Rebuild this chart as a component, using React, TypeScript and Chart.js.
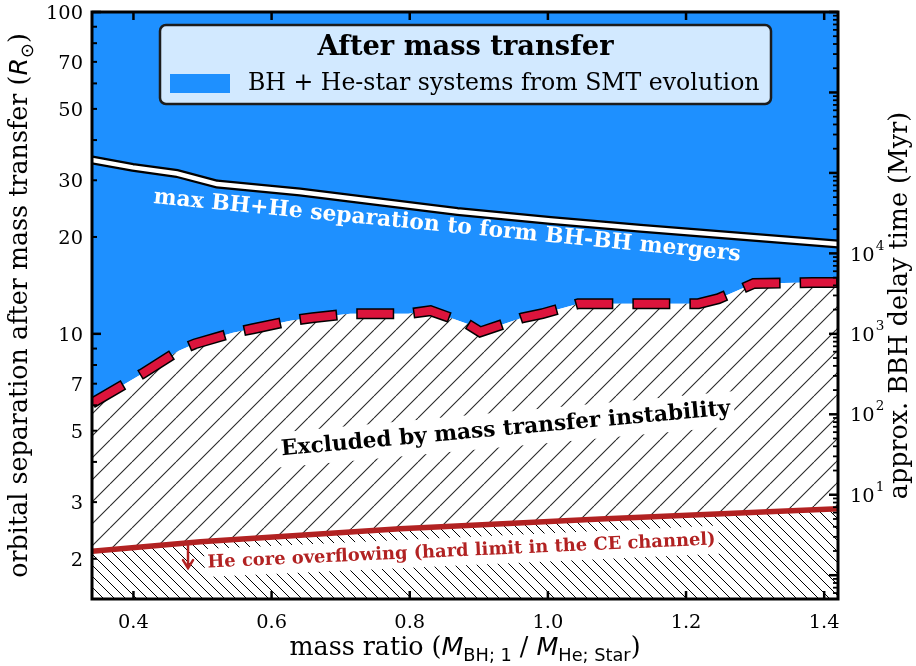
import React, { useEffect, useRef } from "react";
import { Chart, registerables } from "chart.js";
Chart.register(...registerables);

// ---------------- data ----------------
const X_MIN = 0.34;
const X_MAX = 1.42;
const Y_MIN = 1.5;
const Y_MAX = 100;

// stability boundary (dashed red line / edge of blue region)
const boundaryMassRatio = [0.34, 0.412, 0.465, 0.489, 0.544, 0.573, 0.627, 0.659, 0.714, 0.798, 0.83, 0.883, 0.902, 0.963, 0.992, 1.044, 1.076, 1.218, 1.247, 1.298, 1.383, 1.42];
const boundarySeparation = [6.09, 7.5, 8.85, 9.31, 10.07, 10.37, 10.98, 11.22, 11.55, 11.55, 11.8, 10.75, 10.14, 11.22, 11.55, 12.41, 12.41, 12.41, 12.86, 14.33, 14.43, 14.43];

// max BH+He separation to form BH-BH mergers (white line)
const maxSepMassRatio = [0.34, 0.399, 0.463, 0.521, 0.641, 0.869, 1.004, 1.134, 1.42];
const maxSepSeparation = [34.7, 32.9, 31.5, 29.2, 27.6, 24.0, 22.5, 21.3, 19.0];

// He core overflowing limit (firebrick line)
const heCoreMassRatio = [0.34, 0.497, 0.786, 1.076, 1.42];
const heCoreSeparation = [2.11, 2.26, 2.48, 2.66, 2.86];

// ticks
const xTicks = [0.4, 0.6, 0.8, 1.0, 1.2, 1.4];
const xTickLabels = ["0.4", "0.6", "0.8", "1.0", "1.2", "1.4"];
const yLabelTicks = [2, 3, 5, 7, 10, 20, 30, 50, 70, 100];
const yMajorTicks = [10, 100];
const yMinorTicks = [2, 3, 4, 5, 6, 7, 8, 9, 20, 30, 40, 50, 60, 70, 80, 90];
const delayLabelExponents = [1, 2, 3, 4];
const DELAY_AT_10_RSUN = 1000; // Myr at 10 Rsun
const DELAY_POWER = 4;

// annotation anchors (data coordinates); angle in degrees, positive = rising to the right
const maxSepText = { q: 0.854, a: 21.6, angle: -5.6 };
const excludedText = { q: 0.939, a: 5.05, angle: 5.2 };
const heCoreText = { q: 0.875, a: 2.11, angle: 2.6 };
const heArrow = { q: 0.479, aFrom: 2.25, aTo: 1.87 };

// ---------------- styles ----------------
const BLUE = "#1E90FF";
const CRIMSON = "#DC143C";
const FIREBRICK = "#B22222";
const SERIF = '"DejaVu Serif"';
const SANS = '"DejaVu Sans"';

type Seg = { t: string; f: (s: number) => string; dy?: number };
const serif = (s: number) => `${s}px ${SERIF}`;
const serifBold = (s: number) => `bold ${s}px ${SERIF}`;
const sansItal = (s: number) => `italic ${s}px ${SANS}`;
const sansSub = (s: number) => `${0.7 * s}px ${SANS}`;

function richWidth(ctx: CanvasRenderingContext2D, segs: Seg[], s: number) {
  let w = 0;
  for (const g of segs) {
    ctx.font = g.f(s);
    w += ctx.measureText(g.t).width;
  }
  return w;
}
function drawRich(ctx: CanvasRenderingContext2D, segs: Seg[], s: number, cx: number, y: number) {
  const w = richWidth(ctx, segs, s);
  let x = cx - w / 2;
  ctx.textAlign = "left";
  ctx.textBaseline = "alphabetic";
  for (const g of segs) {
    ctx.font = g.f(s);
    ctx.fillText(g.t, x, y + (g.dy || 0) * s);
    x += ctx.measureText(g.t).width;
  }
}
function fitSize(ctx: CanvasRenderingContext2D, segs: Seg[], target: number) {
  return (100 * target) / richWidth(ctx, segs, 100);
}

function makeHatch(ctx: CanvasRenderingContext2D, p: number, forward: boolean, color: string, lw: number) {
  const c = document.createElement("canvas");
  c.width = p;
  c.height = p;
  const g = c.getContext("2d")!;
  g.fillStyle = "#fff";
  g.fillRect(0, 0, p, p);
  g.strokeStyle = color;
  g.lineWidth = lw;
  g.beginPath();
  for (const o of [-p, 0, p]) {
    if (forward) {
      g.moveTo(o, p);
      g.lineTo(o + p, 0);
    } else {
      g.moveTo(o, 0);
      g.lineTo(o + p, p);
    }
  }
  g.stroke();
  return ctx.createPattern(c, "repeat")!;
}

const xTitle: Seg[] = [
  { t: "mass ratio (", f: serif },
  { t: "M", f: sansItal },
  { t: "BH; 1", f: sansSub, dy: 0.25 },
  { t: " / ", f: serif },
  { t: "M", f: sansItal },
  { t: "He; Star", f: sansSub, dy: 0.25 },
  { t: ")", f: serif },
];
const yTitle: Seg[] = [
  { t: "orbital separation after mass transfer (", f: serif },
  { t: "R", f: sansItal },
  { t: "\u2299", f: sansSub, dy: 0.22 },
  { t: ")", f: serif },
];
const y2Title: Seg[] = [{ t: "approx. BBH delay time (Myr)", f: serif }];

const overlay = {
  id: "overlay",
  afterDatasetsDraw(chart: any) {
    const ctx: CanvasRenderingContext2D = chart.ctx;
    const xs = chart.scales.x;
    const ys = chart.scales.y;
    ctx.save();
    const ca = chart.chartArea;
    ctx.beginPath();
    ctx.rect(ca.left, ca.top, ca.right - ca.left, ca.bottom - ca.top);
    ctx.clip();

    const rotText = (
      text: string,
      weight: string,
      target: number,
      color: string,
      anchor: { q: number; a: number; angle: number },
      box: number | null
    ) => {
      const segs: Seg[] = [{ t: text, f: (s) => `${weight} ${s}px ${SERIF}` }];
      const s = fitSize(ctx, segs, target);
      const cx = xs.getPixelForValue(anchor.q);
      const cy = ys.getPixelForValue(anchor.a);
      ctx.save();
      ctx.translate(cx, cy);
      ctx.rotate((-anchor.angle * Math.PI) / 180);
      ctx.font = `${weight} ${s}px ${SERIF}`;
      const w = ctx.measureText(text).width;
      if (box !== null) {
        ctx.fillStyle = "#fff";
        ctx.fillRect(-w / 2 - box, -0.62 * s - box, w + 2 * box, 1.24 * s + 2 * box);
      }
      ctx.fillStyle = color;
      ctx.textAlign = "center";
      ctx.textBaseline = "middle";
      ctx.fillText(text, 0, 0);
      ctx.restore();
    };

    rotText("max BH+He separation to form BH-BH mergers", "bold", 590, "#fff", maxSepText, null);
    rotText("Excluded by mass transfer instability", "bold", 451, "#000", excludedText, 4);
    rotText("He core overflowing (hard limit in the CE channel)", "bold", 509, FIREBRICK, heCoreText, 3);

    // arrow
    const ax = xs.getPixelForValue(heArrow.q);
    const ay1 = ys.getPixelForValue(heArrow.aFrom);
    const ay2 = ys.getPixelForValue(heArrow.aTo);
    ctx.strokeStyle = FIREBRICK;
    ctx.lineWidth = 2.5;
    ctx.lineCap = "round";
    ctx.beginPath();
    ctx.moveTo(ax, ay1);
    ctx.lineTo(ax, ay2);
    ctx.moveTo(ax - 5, ay2 - 8);
    ctx.lineTo(ax, ay2);
    ctx.lineTo(ax + 5, ay2 - 8);
    ctx.stroke();
    ctx.restore();
  },
  afterDraw(chart: any) {
    const ctx: CanvasRenderingContext2D = chart.ctx;
    const xs = chart.scales.x;
    const ys = chart.scales.y;
    const y2 = chart.scales.y2;
    const ca = chart.chartArea;
    ctx.save();
    ctx.strokeStyle = "#000";
    ctx.fillStyle = "#000";
    ctx.lineCap = "butt";
    const line = (x1: number, y1: number, x2: number, y2_: number, w: number) => {
      ctx.lineWidth = w;
      ctx.beginPath();
      ctx.moveTo(x1, y1);
      ctx.lineTo(x2, y2_);
      ctx.stroke();
    };
    // x ticks (bottom + top, inward)
    for (const v of xTicks) {
      const px = xs.getPixelForValue(v);
      line(px, ca.bottom, px, ca.bottom - 8, 2.5);
      line(px, ca.top, px, ca.top + 8, 2.5);
    }
    // left y ticks
    for (const v of yMajorTicks) {
      const py = ys.getPixelForValue(v);
      line(ca.left, py, ca.left + 9, py, 2.5);
    }
    for (const v of yMinorTicks) {
      const py = ys.getPixelForValue(v);
      line(ca.left, py, ca.left + 5, py, 2);
    }
    // right delay-time ticks
    const kMin = Math.floor(Math.log10(y2.min));
    const kMax = Math.ceil(Math.log10(y2.max));
    for (let k = kMin; k <= kMax; k++) {
      for (let m = 1; m <= 9; m++) {
        const v = m * Math.pow(10, k);
        if (v < y2.min || v > y2.max) continue;
        const py = y2.getPixelForValue(v);
        if (m === 1) line(ca.right, py, ca.right - 9, py, 2.5);
        else line(ca.right, py, ca.right - 5, py, 1.8);
      }
    }
    // spines
    ctx.lineWidth = 3;
    ctx.strokeRect(ca.left, ca.top, ca.right - ca.left, ca.bottom - ca.top);

    // tick labels
    const tickSize = fitSize(ctx, [{ t: "100", f: serif }], 37);
    ctx.font = serif(tickSize);
    ctx.textBaseline = "alphabetic";
    ctx.textAlign = "center";
    xTicks.forEach((v, i) => {
      ctx.fillText(xTickLabels[i], xs.getPixelForValue(v), ca.bottom + 29);
    });
    ctx.textAlign = "right";
    for (const v of yLabelTicks) {
      ctx.fillText(String(v), ca.left - 9, ys.getPixelForValue(v) + 0.37 * tickSize);
    }
    ctx.textAlign = "left";
    for (const k of delayLabelExponents) {
      const py = y2.getPixelForValue(Math.pow(10, k));
      ctx.font = serif(tickSize);
      ctx.fillText("10", ca.right + 12, py + 0.37 * tickSize);
      const w = ctx.measureText("10").width;
      ctx.font = serif(tickSize * 0.7);
      ctx.fillText(String(k), ca.right + 13 + w, py - 0.2 * tickSize);
    }

    // axis titles
    const titleSize = fitSize(ctx, yTitle, 545);
    drawRich(ctx, xTitle, titleSize, (ca.left + ca.right) / 2, 655);
    const midY = (ca.top + ca.bottom) / 2;
    ctx.save();
    ctx.translate(27, midY);
    ctx.rotate(-Math.PI / 2);
    drawRich(ctx, yTitle, titleSize, 0, 0);
    ctx.restore();
    ctx.save();
    ctx.translate(907, midY);
    ctx.rotate(-Math.PI / 2);
    drawRich(ctx, y2Title, titleSize, 0, 0);
    ctx.restore();

    // legend
    const lx = 160, ly = 25, lw = 611, lh = 79, r = 6;
    ctx.beginPath();
    ctx.moveTo(lx + r, ly);
    ctx.arcTo(lx + lw, ly, lx + lw, ly + lh, r);
    ctx.arcTo(lx + lw, ly + lh, lx, ly + lh, r);
    ctx.arcTo(lx, ly + lh, lx, ly, r);
    ctx.arcTo(lx, ly, lx + lw, ly, r);
    ctx.closePath();
    ctx.fillStyle = "rgba(255,255,255,0.8)";
    ctx.fill();
    ctx.lineWidth = 2.5;
    ctx.strokeStyle = "#1c1c1c";
    ctx.stroke();
    const legTitle = "After mass transfer";
    const ltSize = fitSize(ctx, [{ t: legTitle, f: serifBold }], 296);
    ctx.font = serifBold(ltSize);
    ctx.fillStyle = "#000";
    ctx.textAlign = "center";
    ctx.fillText(legTitle, lx + lw / 2, 55);
    ctx.fillStyle = BLUE;
    ctx.fillRect(170, 74, 60, 19);
    const legEntry = "BH + He-star systems from SMT evolution";
    const leSize = fitSize(ctx, [{ t: legEntry, f: serif }], 512);
    ctx.font = serif(leSize);
    ctx.fillStyle = "#000";
    ctx.textAlign = "left";
    ctx.fillText(legEntry, 248, 90);
    ctx.restore();
  },
};

export default function App() {
  const ref = useRef<HTMLCanvasElement>(null);
  useEffect(() => {
    const canvas = ref.current!;
    const ctx = canvas.getContext("2d")!;
    const slash = makeHatch(ctx, 22, true, "#2a2a2a", 1.1);
    const back = makeHatch(ctx, 11, false, "#000", 1.0);
    const pts = (xa: number[], ya: number[]) => xa.map((x, i) => ({ x, y: ya[i] }));
    const boundary = pts(boundaryMassRatio, boundarySeparation);
    const maxSep = pts(maxSepMassRatio, maxSepSeparation);
    const heCore = pts(heCoreMassRatio, heCoreSeparation);
    const base = { pointRadius: 0, tension: 0, xAxisID: "x", yAxisID: "y" };
    const delayMin = DELAY_AT_10_RSUN * Math.pow(Y_MIN / 10, DELAY_POWER);
    const delayMax = DELAY_AT_10_RSUN * Math.pow(Y_MAX / 10, DELAY_POWER);

    const chart = new Chart(canvas, {
      type: "line",
      data: {
        datasets: [
          { ...base, label: "BH + He-star systems from SMT evolution", data: boundary, fill: "end", backgroundColor: BLUE, borderWidth: 0, borderColor: "transparent", order: 10 },
          { ...base, label: "excluded", data: boundary, fill: "start", backgroundColor: slash, borderWidth: 0, borderColor: "transparent", order: 9 },
          { ...base, label: "he core region", data: heCore, fill: "start", backgroundColor: back, borderWidth: 0, borderColor: "transparent", order: 8 },
          { ...base, label: "He core overflowing", data: heCore, fill: false, borderColor: FIREBRICK, borderWidth: 5.5, order: 7 },
          { ...base, label: "max sep outline", data: maxSep, fill: false, borderColor: "#000", borderWidth: 9, order: 6 },
          { ...base, label: "max sep", data: maxSep, fill: false, borderColor: "#fff", borderWidth: 4.5, order: 5 },
          { ...base, label: "boundary outline", data: boundary, fill: false, borderColor: "#000", borderWidth: 11, borderDash: [38, 19], borderDashOffset: 1.5, borderCapStyle: "butt", order: 4 },
          { ...base, label: "boundary", data: boundary, fill: false, borderColor: CRIMSON, borderWidth: 8, borderDash: [35, 22], borderDashOffset: 0, borderCapStyle: "butt", order: 3 },
        ] as any,
      },
      options: {
        responsive: false,
        animation: false,
        events: [],
        devicePixelRatio: 1,
        layout: { padding: { left: 92, top: 12, right: 78, bottom: 67 } },
        plugins: { legend: { display: false }, tooltip: { enabled: false } },
        scales: {
          x: { type: "linear", min: X_MIN, max: X_MAX, display: false },
          y: { type: "logarithmic", min: Y_MIN, max: Y_MAX, display: false },
          y2: { type: "logarithmic", position: "right", min: delayMin, max: delayMax, display: false },
        },
      } as any,
      plugins: [overlay],
    });
    return () => chart.destroy();
  }, []);
  return (
    <div style={{ position: "absolute", left: 0, top: 0, width: 916, height: 666, background: "#fff" }}>
      <canvas ref={ref} width={916} height={666} style={{ display: "block" }} />
    </div>
  );
}
